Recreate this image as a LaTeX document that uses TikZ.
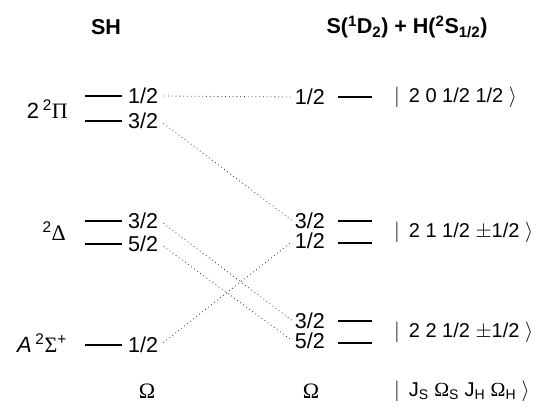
\documentclass[tikz,border=0pt]{standalone}
\usepackage{fontspec}
\setmainfont{Liberation Sans}
\newfontfamily\grk{Liberation Serif}
\begin{document}
\begin{tikzpicture}[x=1pt,y=-1pt,
  lvl/.style={line width=1.2pt},
  conn/.style={line width=0.8pt, dash pattern=on 0.8pt off 3pt, black!80, shorten <=4pt, shorten >=1pt},
  num/.style={font=\fontsize{21.5}{24}\selectfont, inner sep=2pt, text height=15.5pt, text depth=0.5pt},
  title/.style={font=\fontsize{21.5}{24}\selectfont\bfseries, inner sep=0pt},
  stlab/.style={font=\fontsize{22}{24}\selectfont, inner sep=0pt, anchor=east},
  ket/.style={font=\fontsize{20}{24}\selectfont, inner sep=0pt, anchor=west}]
\useasboundingbox (0,0) rectangle (554,404);
% titles
\node[title] (tsh) at (106,27) {SH};
\node[title] (tsd) at (407,27) {S(\textsuperscript{1}D\textsubscript{2}) + H(\textsuperscript{2}S\textsubscript{1/2})};
% state labels
\node[stlab] (pi) at (68,109) {2\,\textsuperscript{2}{\grk Π}};
\node[stlab] (de) at (66,231) {\textsuperscript{2}{\grk Δ}};
\node[stlab] (si) at (67,343) {\textit{A}\,\textsuperscript{2}{\grk Σ}\textsuperscript{+}};
% left levels
\foreach \n/\y in {a/96,b/121,c/221,d/244,e/345}{
  \coordinate (L\n1) at (85,\y); \coordinate (L\n2) at (122,\y);
  \draw[lvl] (L\n1) -- (L\n2);
}
\node[num,anchor=west] (la) at (126,96) {1/2};
\node[num,anchor=west] (lb) at (126,121) {3/2};
\node[num,anchor=west] (lc) at (126,221) {3/2};
\node[num,anchor=west] (ld) at (126,244) {5/2};
\node[num,anchor=west] (le) at (126,345) {1/2};
% right levels
\foreach \n/\y in {a/97,b/221,c/243,d/321,e/343}{
  \coordinate (R\n1) at (338,\y); \coordinate (R\n2) at (372,\y);
  \draw[lvl] (R\n1) -- (R\n2);
}
\node[num,anchor=east] (ra) at (327,97) {1/2};
\node[num,anchor=east] (rb) at (327,221) {3/2};
\node[num,anchor=east] (rc) at (327,241) {1/2};
\node[num,anchor=east] (rd) at (327,321) {3/2};
\node[num,anchor=east] (re) at (327,341) {5/2};
% correlation lines
\draw[conn] (la.east) -- (ra.west);
\draw[conn] (lb.east) -- (rb.west);
\draw[conn] (lc.east) -- (rd.west);
\draw[conn] (ld.east) -- (re.west);
\draw[conn] (le.east) -- (rc.west);
% kets
\node[ket] (ka) at (394,97) {$|$\, 2 0 1/2 1/2 $\rangle$};
\node[ket] (kb) at (394,232) {$|$\, 2 1 1/2 \(\pm\)1/2 $\rangle$};
\node[ket] (kc) at (394,332) {$|$\, 2 2 1/2 \(\pm\)1/2 $\rangle$};
\node[ket] (kd) at (394,391) {$|$\, J\textsubscript{S} {\grk Ω}\textsubscript{S} J\textsubscript{H} {\grk Ω}\textsubscript{H} $\rangle$};
% Omega labels
\node[font=\fontsize{22}{24}\selectfont\grk, inner sep=0pt] (om1) at (147,391) {Ω};
\node[font=\fontsize{22}{24}\selectfont\grk, inner sep=0pt] (om2) at (311,391) {Ω};
\end{tikzpicture}
\end{document}
